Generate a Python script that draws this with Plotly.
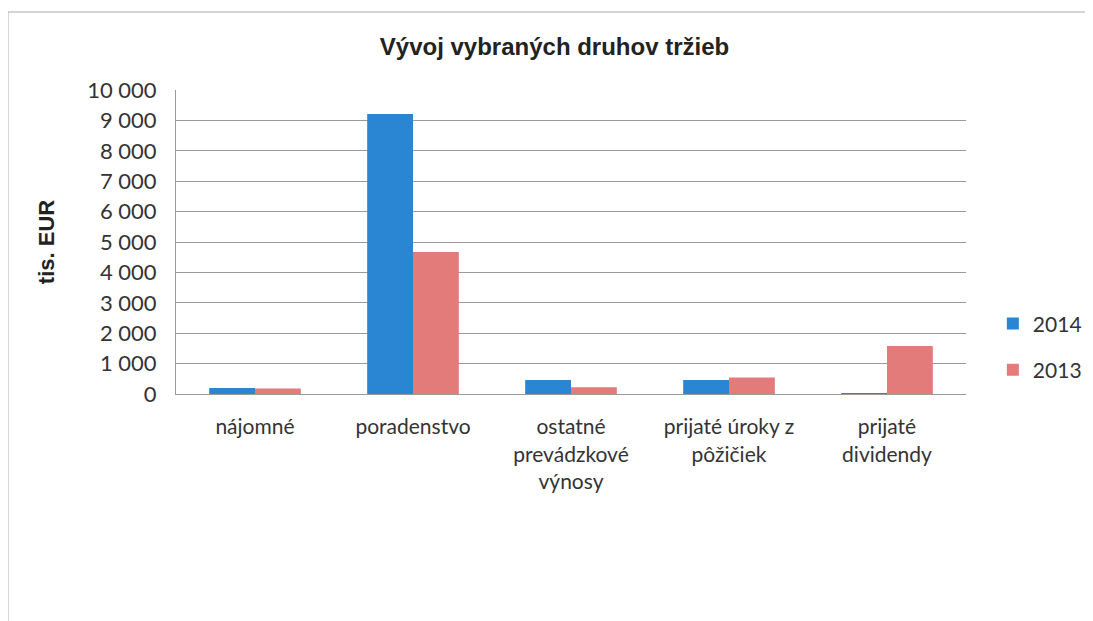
import plotly.graph_objects as go

# categories and values (tis. EUR)
categories = ['nájomné', 'poradenstvo', 'ostatné<br>prevádzkové<br>výnosy',
              'prijaté úroky z<br>pôžičiek', 'prijaté<br>dividendy']
vals_2014 = [200, 9210, 460, 460, 20]
vals_2013 = [185, 4670, 220, 540, 1580]
y_ticks = list(range(0, 10001, 1000))

tick_font = dict(family='Lato, Noto Sans, sans-serif', size=21, color='#333333')

fig = go.Figure()
fig.add_trace(go.Bar(x=categories, y=vals_2014, name='2014', legendgroup='a',
                     marker=dict(color='#2a86d2', line=dict(width=0))))
fig.add_trace(go.Bar(x=categories, y=vals_2013, name='2013', legendgroup='b',
                     marker=dict(color='#e37b7b', line=dict(width=0))))

fig.update_layout(
    width=1093, height=621,
    margin=dict(l=168, r=135, t=82, b=235, autoexpand=False),
    paper_bgcolor='white', plot_bgcolor='white',
    separators=', ',
    barmode='group', bargap=0.42, bargroupgap=0,
    title=dict(text='<b>Vývoj vybraných druhov tržieb</b>', x=0.5, xanchor='center',
               y=1 - 39 / 621, yanchor='middle',
               font=dict(family='Liberation Sans, Arial, sans-serif', size=24, color='#222222')),
    legend=dict(x=1.034, y=0.155, xanchor='left', yanchor='middle',
                font=tick_font, tracegroupgap=16, itemwidth=30),
    showlegend=True,
    font=tick_font,
)
fig.update_yaxes(range=[0, 10000], tickvals=y_ticks, tickformat=',d',
                 showgrid=True, gridcolor='#9a9a9a', gridwidth=1,
                 showline=True, linecolor='#9a9a9a', ticks='', zeroline=False,
                 tickfont=dict(family='Lato, Noto Sans, sans-serif', size=22, color='#333333'),
                 ticklabelstandoff=14,
                 title=dict(text='<b>tis. EUR</b>', standoff=26,
                            font=dict(family='Liberation Sans, Arial, sans-serif', size=22, color='#222222')))
fig.update_xaxes(showline=True, linecolor='#9a9a9a', ticks='', tickfont=tick_font,
                 ticklabelstandoff=14, tickangle=0)

# outer frame of the chart area
fig.add_shape(type='rect', xref='paper', yref='paper',
              x0=-0.2127, x1=1.157, y0=-0.8, y1=1.2566,
              line=dict(color='#aaaaaa', width=1), layer='below')

fig.write_html('out.html')
